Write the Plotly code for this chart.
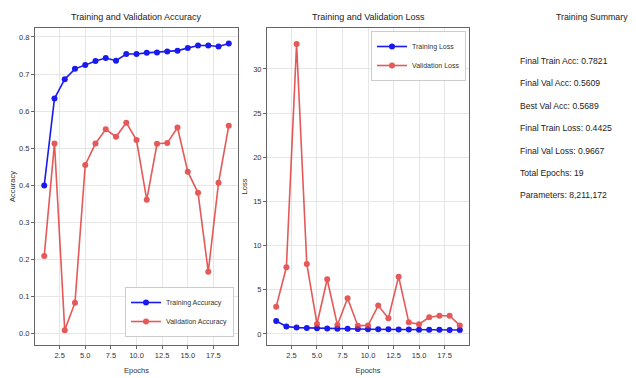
import plotly.graph_objects as go

epochs = list(range(1, 20))
train_acc = [0.400, 0.634, 0.686, 0.714, 0.724, 0.735, 0.743, 0.736, 0.754, 0.754,
             0.757, 0.758, 0.761, 0.763, 0.770, 0.777, 0.777, 0.774, 0.7821]
val_acc = [0.210, 0.513, 0.010, 0.084, 0.455, 0.513, 0.551, 0.531, 0.5689, 0.522,
           0.361, 0.512, 0.514, 0.556, 0.437, 0.380, 0.167, 0.407, 0.5609]
train_loss = [1.47, 0.85, 0.72, 0.68, 0.64, 0.61, 0.59, 0.58, 0.56, 0.54,
              0.53, 0.52, 0.51, 0.50, 0.49, 0.48, 0.47, 0.46, 0.4425]
val_loss = [3.09, 7.55, 32.84, 7.93, 1.13, 6.19, 1.02, 4.04, 0.94, 0.95,
            3.21, 1.78, 6.49, 1.32, 1.10, 1.89, 2.07, 2.07, 0.9667]
acc_ticks = [0.0, 0.1, 0.2, 0.3, 0.4, 0.5, 0.6, 0.7, 0.8]
loss_ticks = [0, 5, 10, 15, 20, 25, 30]
epoch_ticks = [2.5, 5.0, 7.5, 10.0, 12.5, 15.0, 17.5]
summary_lines = [
    "Final Train Acc: 0.7821",
    "Final Val Acc: 0.5609",
    "Best Val Acc: 0.5689",
    "Final Train Loss: 0.4425",
    "Final Val Loss: 0.9667",
    "Total Epochs: 19",
    "Parameters: 8,211,172",
]

FONT = "Liberation Sans, Arial, sans-serif"
# page body has an 8px margin: the figure starts at (8, 8) in the window
OFF = 8
W, H = 636 - OFF, 378 - OFF
BLUE = "#1a1aee"
RED = "#e03030"

fig = go.Figure()

def add_series(x, y, name, color, xa, ya, legend, opacity=1.0):
    fig.add_trace(go.Scatter(
        x=x, y=y, name=name, mode="lines+markers",
        line=dict(color=color, width=1.6),
        marker=dict(color=color, size=6, symbol="circle"),
        opacity=opacity, xaxis=xa, yaxis=ya, legend=legend))

add_series(epochs, train_acc, "Training Accuracy", BLUE, "x", "y", "legend")
add_series(epochs, val_acc, "Validation Accuracy", RED, "x", "y", "legend", 0.8)
add_series(epochs, train_loss, "Training Loss", BLUE, "x2", "y2", "legend2")
add_series(epochs, val_loss, "Validation Loss", RED, "x2", "y2", "legend2", 0.8)

def px_x(p):
    return (p - OFF) / W

def px_y(p):
    return 1 - (p - OFF) / H

axis_common = dict(
    showline=True, mirror=True, linecolor="#666", linewidth=1,
    ticks="outside", ticklen=3, tickcolor="#666",
    showgrid=True, gridcolor="#e6e6e6", gridwidth=1,
    zeroline=False, automargin=False,
    tickfont=dict(family=FONT, size=7.5, color="#333"),
)

fig.update_layout(
    width=W, height=H,
    margin=dict(l=0, r=0, t=0, b=0, autoexpand=False),
    paper_bgcolor="white", plot_bgcolor="white",
    font=dict(family=FONT, color="#333"),
    xaxis=dict(domain=[px_x(35), px_x(238)], range=[0.1, 19.9],
               tickvals=epoch_ticks, ticktext=[f"{v:.1f}" for v in epoch_ticks],
               title=dict(text="Epochs", font=dict(family=FONT, size=7.5), standoff=8),
               anchor="y", **axis_common),
    yaxis=dict(domain=[px_y(345), px_y(28)], range=[-0.030, 0.824],
               tickvals=acc_ticks, ticktext=[f"{v:.1f}" for v in acc_ticks],
               title=dict(text="Accuracy", font=dict(family=FONT, size=7.5), standoff=4),
               anchor="x", **axis_common),
    xaxis2=dict(domain=[px_x(267), px_x(469)], range=[0.1, 19.9],
                tickvals=epoch_ticks, ticktext=[f"{v:.1f}" for v in epoch_ticks],
                title=dict(text="Epochs", font=dict(family=FONT, size=7.5), standoff=8),
                anchor="y2", **axis_common),
    yaxis2=dict(domain=[px_y(345), px_y(28)], range=[-1.25, 34.64],
                tickvals=loss_ticks, ticktext=[str(v) for v in loss_ticks],
                title=dict(text="Loss", font=dict(family=FONT, size=7.5), standoff=4),
                anchor="x2", **axis_common),
    legend=dict(x=px_x(234), y=px_y(337), xanchor="right", yanchor="bottom",
                bgcolor="rgba(255,255,255,0.9)", bordercolor="#ccc", borderwidth=1,
                font=dict(family=FONT, size=7, color="#333"),
                itemwidth=30, tracegroupgap=0),
    legend2=dict(x=px_x(466), y=px_y(31), xanchor="right", yanchor="top",
                 bgcolor="rgba(255,255,255,0.9)", bordercolor="#ccc", borderwidth=1,
                 font=dict(family=FONT, size=7, color="#333"),
                 itemwidth=30, tracegroupgap=0),
    showlegend=True,
)

annotations = [
    dict(text="Training and Validation Accuracy", x=px_x(136.5), y=px_y(17),
         font=dict(family=FONT, size=9, color="#222")),
    dict(text="Training and Validation Loss", x=px_x(368), y=px_y(17),
         font=dict(family=FONT, size=9, color="#222")),
    dict(text="Training Summary", x=px_x(592), y=px_y(17),
         font=dict(family=FONT, size=8.8, color="#222")),
]
summary_y = [61, 83, 106, 128, 151, 173, 195]
for line, yy in zip(summary_lines, summary_y):
    annotations.append(dict(text=line, x=px_x(518), y=px_y(yy), xanchor="left",
                            font=dict(family=FONT, size=8.6, color="#222")))
for a in annotations:
    a.setdefault("xanchor", "center")
    a.update(xref="paper", yref="paper", yanchor="middle", showarrow=False)
fig.update_layout(annotations=annotations)

fig.write_html("out.html")
